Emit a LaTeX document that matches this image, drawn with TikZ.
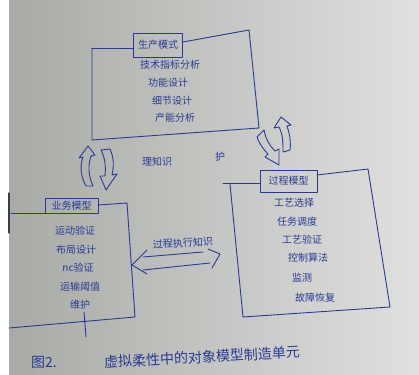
\documentclass[tikz,border=0pt]{standalone}
\usepackage{fontspec}
\newfontfamily\cjk{Noto Sans CJK SC}
\definecolor{ink}{RGB}{42,58,148}
\definecolor{paperL}{RGB}{168,170,166}
\definecolor{paperR}{RGB}{224,225,223}
\definecolor{edge}{RGB}{60,62,70}
\begin{document}
\begin{tikzpicture}[x=1pt,y=-1pt, line join=round, line cap=round,
  ln/.style={draw=ink, line width=0.9pt},
  lbl/.style={text=ink, font=\cjk\fontsize{10}{10}\selectfont, inner sep=0pt},
  captxt/.style={text=ink, font=\cjk\fontsize{14}{14}\selectfont, inner sep=0pt},
  tbox/.style={draw=ink, line width=0.9pt, text=ink, font=\cjk\fontsize{10}{10}\selectfont, inner sep=0pt}]
% background paper
\fill[white] (0,0) rectangle (419,374);
\shade[left color=paperL, right color=paperR] (9,0) rectangle (419,374);
\draw[edge, line width=1.2pt] (9,193) -- (9,233);
\useasboundingbox (0,0) rectangle (419,374);

% ---------- top box: production model ----------
\node[tbox, minimum width=49pt, minimum height=24pt] (tA) at (158,45) {生产模式};
\coordinate (a1) at (92,48);
\coordinate (a2) at (183,42);
\coordinate (a3) at (249,30);
\coordinate (a4) at (259,128);
\coordinate (a5) at (92,140);
\draw[ln] (a1) -- (a1 -| tA.west);
\draw[ln] (a2) -- (a3) -- (a4) -- (a5) -- (a1);
\node[lbl] (a6) at (170,65) {技术指标分析};
\node[lbl] (a7) at (168,83) {功能设计};
\node[lbl] (a8) at (172,101) {细节设计};
\node[lbl] (a9) at (175,118) {产能分析};

% ---------- left box: business model ----------
\node[tbox, minimum width=53pt, minimum height=15pt] (tB) at (71.5,205.5) {业务模型};
\coordinate (b1) at (11,213);
\coordinate (b2) at (98,205);
\coordinate (b3) at (127,203);
\coordinate (b4) at (135,317);
\coordinate (b5) at (9,328);
\draw[ln] (b1) -- (b1 -| tB.west);
\draw[ln] (b2) -- (b3) -- (b4) -- (b5);
\coordinate (b7) at (84,312);
\coordinate (b8) at (86,337);
\draw[ln] (b7) -- (b8);
\node[lbl] (b9) at (75,231) {运动验证};
\node[lbl] (b10) at (76,250) {布局设计};
\node[lbl] (b11) at (78,268) {nc验证};
\node[lbl] (b12) at (80,287) {运输阈值};
\node[lbl] (b13) at (80,305) {维护};

% ---------- right box: process model ----------
\node[tbox, minimum width=57pt, minimum height=22pt] (tC) at (288.5,181) {过程模型};
\coordinate (c1) at (223,183);
\coordinate (c2) at (317,175);
\coordinate (c3) at (368,169);
\coordinate (c4) at (390,307);
\coordinate (c5) at (243,317);
\coordinate (c6) at (230,184);
\draw[ln] (c1) -- (c1 -| tC.west);
\draw[ln] (c2) -- (c3) -- (c4) -- (c5) -- (c6);
\node[lbl] (c7) at (294,203) {工艺选择};
\node[lbl] (c8) at (297,222) {任务调度};
\node[lbl] (c9) at (302,240) {工艺验证};
\node[lbl] (c10) at (308,258) {控制算法};
\node[lbl] (c11) at (302,278) {监测};
\node[lbl] (c12) at (315,298) {故障恢复};

% ---------- curved block arrows, left pair ----------
\draw[ln] (86,186) .. controls (80,175) and (80,165) .. (83,157) -- (79,158) -- (88,146) -- (95,155) -- (91,156)
          .. controls (88,165) and (88,175) .. (93,186) -- cycle;
\draw[ln] (101,150) -- (110,149) .. controls (114,158) and (114,166) .. (112,175) -- (117,174) -- (106,190)
          -- (100,176) -- (105,176) .. controls (106,166) and (105,158) .. (101,150) -- cycle;

% ---------- curved block arrows, right pair ----------
\draw[ln] (264,130) -- (257,137) .. controls (260,145) and (264,150) .. (268,154) -- (265,157) -- (279,165)
          -- (279,149) -- (275,151) .. controls (270,146) and (266,140) .. (264,130) -- cycle;
\draw[ln] (283,152) .. controls (283,142) and (283,135) .. (279,127) -- (274,128) -- (281,117) -- (291,125)
          -- (287,126) .. controls (290,135) and (291,142) .. (290,150) -- cycle;

\node[lbl] (k1) at (157,162) {理知识};
\node[lbl] (k2) at (220,157) {护};

% ---------- double arrow between business and process model ----------
\coordinate (d1) at (143,257);
\coordinate (d2) at (203,252);
\coordinate (d3) at (143,270);
\coordinate (d4) at (210,263);
\coordinate (d5) at (147,250);
\coordinate (d6) at (132,265);
\coordinate (d7) at (147,274);
\coordinate (d8) at (208,249);
\coordinate (d9) at (220,254);
\coordinate (d10) at (212,268);
\draw[ln] (d1) -- (d2);
\draw[ln] (d3) -- (d4);
\draw[ln] (d5) -- (d6) -- (d7);
\draw[ln] (d8) -- (d9) -- (d10);
\node[lbl, rotate=3] (k3) at (183,243) {过程执行知识};

% ---------- caption ----------
\node[captxt] (f1) at (44,362) {图2.};
\node[captxt, rotate=3] (f2) at (202,357) {虚拟柔性中的对象模型制造单元};
\end{tikzpicture}
\end{document}
